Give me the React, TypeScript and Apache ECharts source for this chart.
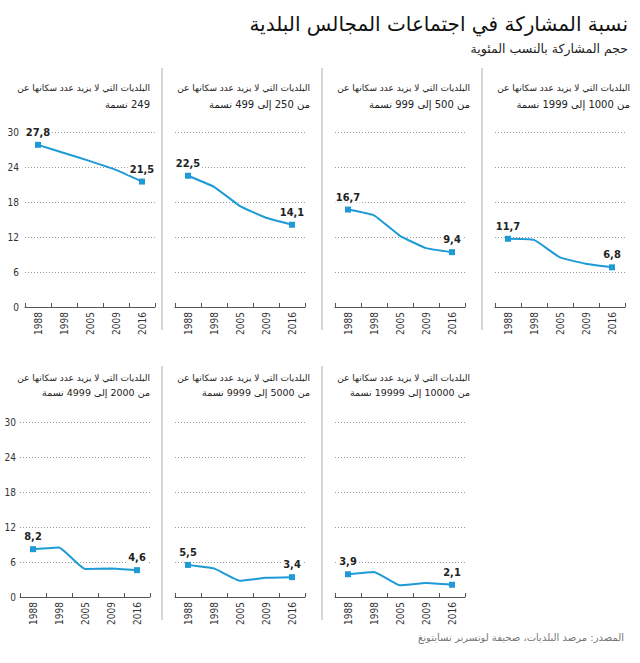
import React, { useEffect, useRef } from 'react';
import * as echarts from 'echarts';

const years = ['1988', '1998', '2005', '2009', '2016'];
const s1 = [27.8, 26.4, 25.0, 23.5, 21.5];
const s2 = [22.5, 20.6, 17.3, 15.3, 14.1];
const s3 = [16.7, 15.7, 12.2, 10.1, 9.4];
const s4 = [11.7, 11.5, 8.5, 7.4, 6.8];
const s5 = [8.2, 8.5, 4.8, 4.9, 4.6];
const s6 = [5.5, 4.9, 2.8, 3.3, 3.4];
const s7 = [3.9, 4.3, 2.0, 2.4, 2.1];
const seriesValues = [s1, s2, s3, s4, s5, s6, s7];

const yMin = 0;
const yMax = 30;
const yStep = 6;

const mainTitle = 'نسبة المشاركة في اجتماعات المجالس البلدية';
const subTitle = 'حجم المشاركة بالنسب المئوية';
const sourceText = 'المصدر: مرصد البلديات، صحيفة لوتسرنر تسايتونغ';
const panelLine1 = 'البلديات التي لا يزيد عدد سكانها عن';
const panelLine2 = [
  '249 نسمة',
  'من 250 إلى 499 نسمة',
  'من 500 إلى 999 نسمة',
  'من 1000 إلى 1999 نسمة',
  'من 2000 إلى 4999 نسمة',
  'من 5000 إلى 9999 نسمة',
  'من 10000 إلى 19999 نسمة',
];

const RTL = (s: string) => '\u202B' + s + '\u202C';
const AR_FONT = '"DejaVu Sans", sans-serif';
const NUM_FONT = '"Liberation Sans Narrow", "DejaVu Sans Condensed", "Roboto", sans-serif';
const BLUE = '#1e9ad6';

// layout (px)
const panelPos = [
  { left: 25, top: 132, col: 0, row: 0 },
  { left: 175, top: 132, col: 1, row: 0 },
  { left: 335, top: 132, col: 2, row: 0 },
  { left: 495, top: 132, col: 3, row: 0 },
  { left: 20, top: 422, col: 0, row: 1 },
  { left: 175, top: 422, col: 1, row: 1 },
  { left: 335, top: 422, col: 2, row: 1 },
];
const PW = 130;
const PH = 175;

export default function App() {
  const ref = useRef<HTMLDivElement>(null);
  useEffect(() => {
    document.body.style.margin = '0';
    if (!ref.current) return;
    const chart = echarts.init(ref.current, null, { renderer: 'svg' });

    const grids: any[] = [];
    const xAxes: any[] = [];
    const yAxes: any[] = [];
    const series: any[] = [];
    const graphics: any[] = [];

    seriesValues.forEach((vals, i) => {
      const p = panelPos[i];
      grids.push({ left: p.left, top: p.top, width: PW, height: PH, containLabel: false });
      xAxes.push({
        type: 'category',
        gridIndex: i,
        data: years,
        boundaryGap: true,
        axisLine: { show: true, lineStyle: { color: '#555', width: 1 } },
        axisTick: { show: true, inside: true, length: 4, lineStyle: { color: '#555' } },
        axisLabel: {
          rotate: 90,
          margin: 5,
          fontSize: 10,
          color: '#333',
          fontFamily: NUM_FONT,
        },
      });
      yAxes.push({
        type: 'value',
        gridIndex: i,
        min: yMin,
        max: yMax,
        interval: yStep,
        axisLine: { show: false },
        axisTick: { show: false },
        axisLabel: {
          show: p.col === 0,
          margin: p.row === 0 ? 6 : 4,
          fontSize: 10,
          color: '#333',
          fontFamily: NUM_FONT,
        },
        splitLine: { show: true, lineStyle: { type: [1, 2], color: '#999', width: 1 } },
      });
      const last = vals.length - 1;
      series.push({
        type: 'line',
        xAxisIndex: i,
        yAxisIndex: i,
        smooth: 0.12,
        lineStyle: { color: BLUE, width: 2 },
        itemStyle: { color: BLUE },
        symbol: 'rect',
        symbolSize: 6,
        showSymbol: true,
        data: vals.map((v, k) => {
          const ends = k === 0 || k === last;
          return ends
            ? {
                value: v,
                symbol: 'rect',
                label: {
                  show: true,
                  position: 'top',
                  distance: 4,
                  formatter: (pp: any) => Number(pp.value).toFixed(1).replace('.', ','),
                  fontSize: 11,
                  fontWeight: 'bold',
                  color: '#222',
                  fontFamily: NUM_FONT,
                  backgroundColor: '#fff',
                  padding: [0, 2],
                },
              }
            : { value: v, symbol: 'none' };
        }),
      });

      const rightX = 150 + 160 * p.col;
      const baseY = p.row === 0 ? 88 : 378;
      graphics.push({
        type: 'text',
        style: {
          text: RTL(panelLine1),
          x: rightX,
          y: baseY,
          align: 'right',
          verticalAlign: 'middle',
          fontSize: 9,
          fontFamily: AR_FONT,
          fill: '#222',
        },
      });
      graphics.push({
        type: 'text',
        style: {
          text: RTL(panelLine2[i]),
          x: rightX,
          y: baseY + (p.row === 0 ? 16 : 14),
          align: 'right',
          verticalAlign: 'middle',
          fontSize: p.row === 0 ? 10 : 9.5,
          fontFamily: AR_FONT,
          fill: '#222',
        },
      });
    });

    // separators
    [162, 322, 482].forEach((x) => {
      graphics.push({
        type: 'line',
        shape: { x1: x, y1: 68, x2: x, y2: 330 },
        style: { stroke: '#d6d6d6', lineWidth: 2 },
      });
    });
    [162, 322].forEach((x) => {
      graphics.push({
        type: 'line',
        shape: { x1: x, y1: 366, x2: x, y2: 620 },
        style: { stroke: '#d6d6d6', lineWidth: 2 },
      });
    });

    graphics.push({
      type: 'text',
      style: {
        text: RTL(mainTitle),
        x: 628,
        y: 24,
        align: 'right',
        verticalAlign: 'middle',
        fontSize: 20,
        fontFamily: AR_FONT,
        fill: '#111',
      },
    });
    graphics.push({
      type: 'text',
      style: {
        text: RTL(subTitle),
        x: 628,
        y: 48,
        align: 'right',
        verticalAlign: 'middle',
        fontSize: 12.5,
        fontFamily: AR_FONT,
        fill: '#222',
      },
    });
    graphics.push({
      type: 'text',
      style: {
        text: RTL(sourceText),
        x: 624,
        y: 637,
        align: 'right',
        verticalAlign: 'middle',
        fontSize: 10,
        fontFamily: AR_FONT,
        fill: '#777',
      },
    });

    chart.setOption({
      animation: false,
      backgroundColor: '#fff',
      grid: grids,
      xAxis: xAxes,
      yAxis: yAxes,
      series,
      graphic: graphics,
    });
    return () => chart.dispose();
  }, []);
  return <div ref={ref} style={{ width: 640, height: 663 }} />;
}
